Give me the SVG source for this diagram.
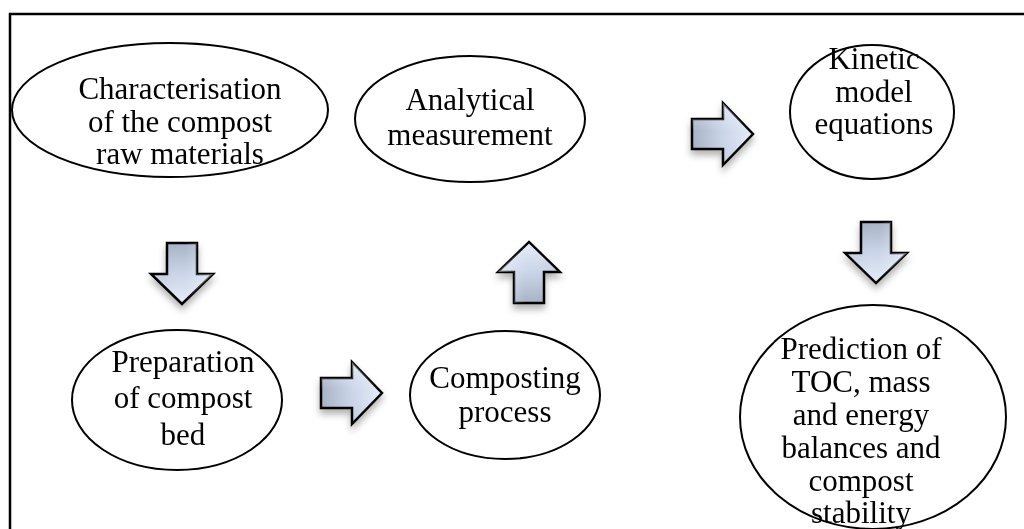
<svg xmlns="http://www.w3.org/2000/svg" xmlns:xlink="http://www.w3.org/1999/xlink" width="1024" height="529" viewBox="0 0 1024 529">
<style>
.node ellipse{fill:#fff;stroke:#000;stroke-width:2}
.node text{font-family:"Liberation Serif","Times New Roman",serif;font-size:31px;fill:#000;text-anchor:middle}
.arrow{fill:url(#ag);stroke:#000;stroke-width:2.5;stroke-linejoin:miter}
.gloss{fill:url(#gl);stroke:none}
</style>
<defs>
<linearGradient id="ag" x1="0" y1="0" x2="1" y2="0">
<stop offset="0" stop-color="#a8b2c5"/>
<stop offset="0.5" stop-color="#cad5e9"/>
<stop offset="1" stop-color="#e6ecf8"/>
</linearGradient>
<linearGradient id="gl" x1="0" y1="0" x2="0" y2="1">
<stop offset="0" stop-color="#fff" stop-opacity="0.45"/>
<stop offset="0.45" stop-color="#fff" stop-opacity="0"/>
<stop offset="1" stop-color="#000" stop-opacity="0.06"/>
</linearGradient>
<filter id="sh" x="-30%" y="-30%" width="160%" height="170%">
<feDropShadow dx="0" dy="5" stdDeviation="3.5" flood-color="#000" flood-opacity="0.3"/>
</filter>
<polygon id="arw" points="0,-15 31,-15 31,-31 61,0 31,31 31,15 0,15"/>
</defs>
<rect x="10" y="14" width="1030" height="530" fill="#fff" stroke="#000" stroke-width="2.5"/>
<g id="connectors" filter="url(#sh)">
<g transform="translate(182,243) rotate(90)"><use xlink:href="#arw" href="#arw" class="arrow"/><use xlink:href="#arw" href="#arw" class="gloss"/></g>
<g transform="translate(321,393)"><use xlink:href="#arw" href="#arw" class="arrow"/><use xlink:href="#arw" href="#arw" class="gloss"/></g>
<g transform="translate(529,303) rotate(-90)"><use xlink:href="#arw" href="#arw" class="arrow"/><use xlink:href="#arw" href="#arw" class="gloss"/></g>
<g transform="translate(692,134)"><use xlink:href="#arw" href="#arw" class="arrow"/><use xlink:href="#arw" href="#arw" class="gloss"/></g>
<g transform="translate(876,222) rotate(90)"><use xlink:href="#arw" href="#arw" class="arrow"/><use xlink:href="#arw" href="#arw" class="gloss"/></g>
</g>
<g id="n1" class="node">
<ellipse cx="170" cy="110" rx="158" ry="67"/>
<text x="180" y="99">Characterisation</text>
<text x="180" y="132">of the compost</text>
<text x="180" y="164">raw materials</text>
</g>
<g id="n2" class="node">
<ellipse cx="470" cy="119" rx="115" ry="63"/>
<text x="470" y="110">Analytical</text>
<text x="470" y="145">measurement</text>
</g>
<g id="n3" class="node">
<ellipse cx="872" cy="112" rx="82" ry="67"/>
<text x="874" y="69">Kinetic</text>
<text x="874" y="102">model</text>
<text x="874" y="134">equations</text>
</g>
<g id="n4" class="node">
<ellipse cx="177" cy="400" rx="105" ry="70"/>
<text x="183" y="372">Preparation</text>
<text x="183" y="408">of compost</text>
<text x="183" y="445">bed</text>
</g>
<g id="n5" class="node">
<ellipse cx="505" cy="395" rx="95" ry="64"/>
<text x="505" y="388">Composting</text>
<text x="505" y="422">process</text>
</g>
<g id="n6" class="node">
<ellipse cx="873" cy="417" rx="133" ry="112"/>
<text x="861" y="359">Prediction of</text>
<text x="861" y="392">TOC, mass</text>
<text x="861" y="425">and energy</text>
<text x="861" y="458">balances and</text>
<text x="861" y="491">compost</text>
<text x="861" y="523">stability</text>
</g>
</svg>
